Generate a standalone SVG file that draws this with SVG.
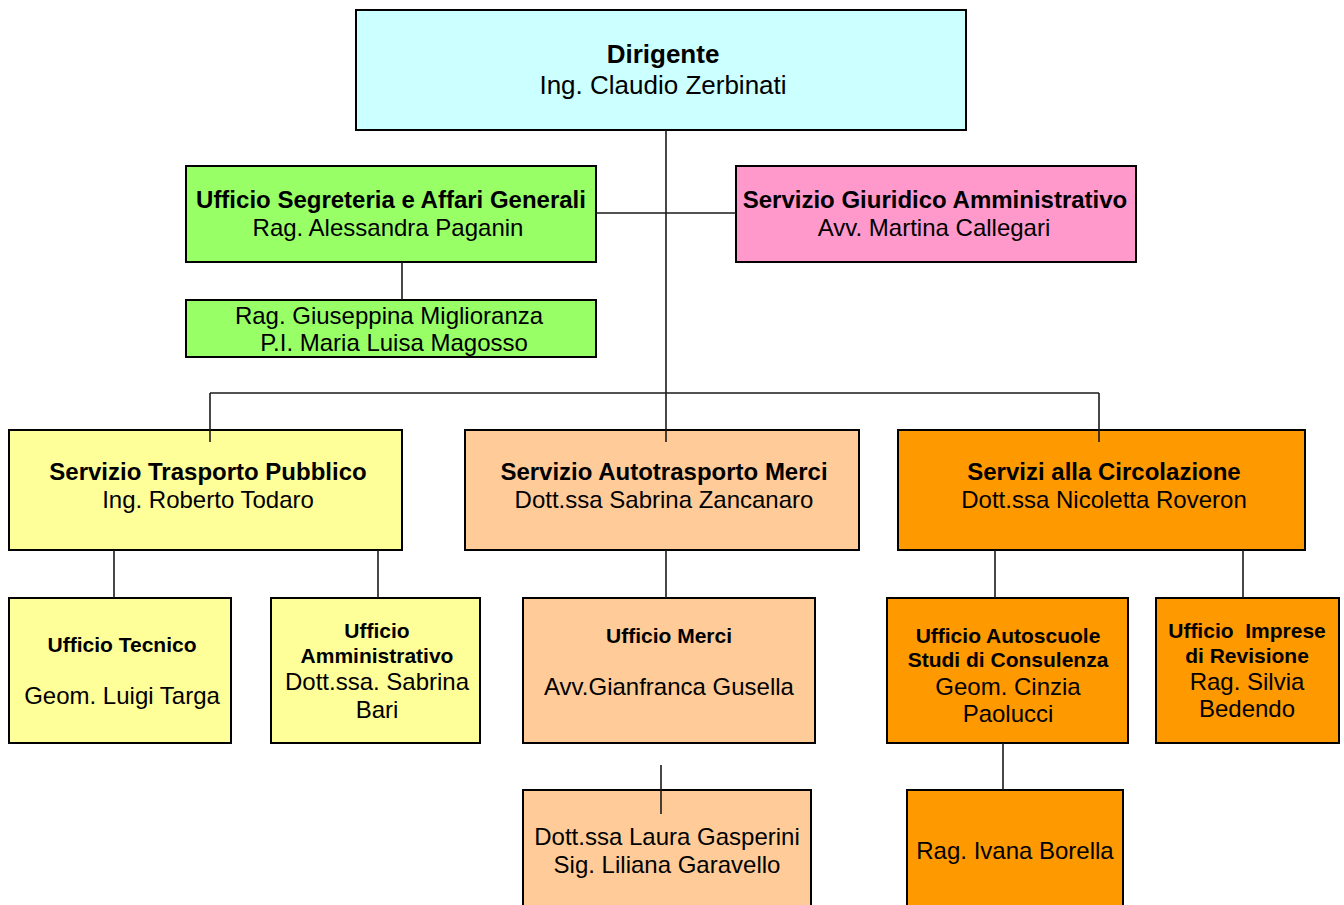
<svg xmlns="http://www.w3.org/2000/svg" width="1344" height="905" viewBox="0 0 1344 905">
<style>
  .box { stroke: #000; stroke-width: 2; }
  .cyan { fill: #CCFFFF; }
  .green { fill: #99FF66; }
  .pink { fill: #FF99CC; }
  .yellow { fill: #FFFF99; }
  .peach { fill: #FFCC99; }
  .orange { fill: #FF9900; }
  text { font-family: "Liberation Sans", Arial, sans-serif; fill: #000; text-anchor: middle; }
  .t { font-size: 24px; }
  .tb { font-size: 24px; font-weight: bold; }
  .sb { font-size: 21px; font-weight: bold; }
  .d { font-size: 26px; }
  .db { font-size: 26px; font-weight: bold; }
  .conn line { stroke: #1a1a1a; stroke-width: 1.6; }
</style>
<rect width="1344" height="905" fill="#fff"/>

<g id="dirigente">
  <rect class="box cyan" x="356" y="10" width="610" height="120"/>
  <text class="db" x="663" y="63">Dirigente</text>
  <text class="d" x="663" y="94">Ing. Claudio Zerbinati</text>
</g>

<g id="segreteria">
  <rect class="box green" x="186" y="166" width="410" height="96"/>
  <text class="tb" x="391" y="208">Ufficio Segreteria e Affari Generali</text>
  <text class="t" x="388" y="236">Rag. Alessandra Paganin</text>
</g>

<g id="segreteria-staff">
  <rect class="box green" x="186" y="300" width="410" height="57"/>
  <text class="t" x="389" y="324">Rag. Giuseppina Miglioranza</text>
  <text class="t" x="394" y="351">P.I. Maria Luisa Magosso</text>
</g>

<g id="giuridico">
  <rect class="box pink" x="736" y="166" width="400" height="96"/>
  <text class="tb" x="935" y="208">Servizio Giuridico Amministrativo</text>
  <text class="t" x="934" y="236">Avv. Martina Callegari</text>
</g>

<g id="trasporto">
  <rect class="box yellow" x="9" y="430" width="393" height="120"/>
  <text class="tb" x="208" y="480">Servizio Trasporto Pubblico</text>
  <text class="t" x="208" y="508">Ing. Roberto Todaro</text>
</g>

<g id="autotrasporto">
  <rect class="box peach" x="465" y="430" width="394" height="120"/>
  <text class="tb" x="664" y="480">Servizio Autotrasporto Merci</text>
  <text class="t" x="664" y="508">Dott.ssa Sabrina Zancanaro</text>
</g>

<g id="circolazione">
  <rect class="box orange" x="898" y="430" width="407" height="120"/>
  <text class="tb" x="1104" y="480">Servizi alla Circolazione</text>
  <text class="t" x="1104" y="508">Dott.ssa Nicoletta Roveron</text>
</g>

<g id="tecnico">
  <rect class="box yellow" x="9" y="598" width="222" height="145"/>
  <text class="sb" x="122" y="652">Ufficio Tecnico</text>
  <text class="t" x="122" y="704">Geom. Luigi Targa</text>
</g>

<g id="amministrativo">
  <rect class="box yellow" x="271" y="598" width="209" height="145"/>
  <text class="sb" x="377" y="638">Ufficio</text>
  <text class="sb" x="377" y="663">Amministrativo</text>
  <text class="t" x="377" y="690">Dott.ssa. Sabrina</text>
  <text class="t" x="377" y="718">Bari</text>
</g>

<g id="merci">
  <rect class="box peach" x="523" y="598" width="292" height="145"/>
  <text class="sb" x="669" y="643">Ufficio Merci</text>
  <text class="t" x="669" y="695">Avv.Gianfranca Gusella</text>
</g>

<g id="merci-staff">
  <rect class="box peach" x="523" y="790" width="288" height="125"/>
  <text class="t" x="667" y="845">Dott.ssa Laura Gasperini</text>
  <text class="t" x="667" y="873">Sig. Liliana Garavello</text>
</g>

<g id="autoscuole">
  <rect class="box orange" x="887" y="598" width="241" height="145"/>
  <text class="sb" x="1008" y="643">Ufficio Autoscuole</text>
  <text class="sb" x="1008" y="667">Studi di Consulenza</text>
  <text class="t" x="1008" y="695">Geom. Cinzia</text>
  <text class="t" x="1008" y="722">Paolucci</text>
</g>

<g id="imprese">
  <rect class="box orange" x="1156" y="598" width="183" height="145"/>
  <text class="sb" x="1247" y="638" xml:space="preserve">Ufficio  Imprese</text>
  <text class="sb" x="1247" y="663">di Revisione</text>
  <text class="t" x="1247" y="690">Rag. Silvia</text>
  <text class="t" x="1247" y="717">Bedendo</text>
</g>

<g id="borella">
  <rect class="box orange" x="907" y="790" width="216" height="125"/>
  <text class="t" x="1015" y="859">Rag. Ivana Borella</text>
</g>

<g id="connectors" class="conn">
  <line x1="666" y1="130" x2="666" y2="442"/>
  <line x1="596" y1="213" x2="736" y2="213"/>
  <line x1="402" y1="262" x2="402" y2="300"/>
  <line x1="210" y1="393" x2="1099" y2="393"/>
  <line x1="210" y1="393" x2="210" y2="442"/>
  <line x1="1099" y1="393" x2="1099" y2="442"/>
  <line x1="114" y1="550" x2="114" y2="598"/>
  <line x1="378" y1="550" x2="378" y2="598"/>
  <line x1="666" y1="550" x2="666" y2="598"/>
  <line x1="661" y1="765" x2="661" y2="814"/>
  <line x1="995" y1="550" x2="995" y2="598"/>
  <line x1="1243" y1="550" x2="1243" y2="598"/>
  <line x1="1003" y1="743" x2="1003" y2="790"/>
</g>
</svg>
